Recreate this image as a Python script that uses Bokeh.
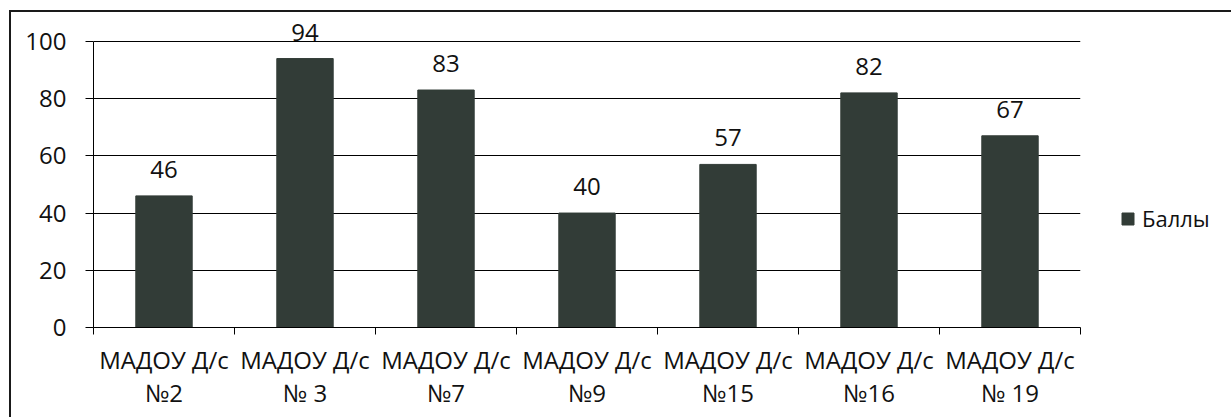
from bokeh.plotting import figure
from bokeh.models import (ColumnDataSource, Range1d, FixedTicker, LabelSet,
                          Legend, LegendItem)
from bokeh.core.properties import value
from bokeh.embed import file_html
from bokeh.resources import INLINE

# ---- data ----
categories = ["МАДОУ Д/с\n№2", "МАДОУ Д/с\n№ 3", "МАДОУ Д/с\n№7", "МАДОУ Д/с\n№9",
              "МАДОУ Д/с\n№15", "МАДОУ Д/с\n№16", "МАДОУ Д/с\n№ 19"]
values = [46, 94, 83, 40, 57, 82, 67]
series_name = "Баллы"
y_ticks = [0, 20, 40, 60, 80, 100]

FONT = "Open Sans"
TXT = "#111111"
BAR = "#323c37"

n = len(categories)
centers = [i + 0.5 for i in range(n)]
bounds = [float(i) for i in range(n + 1)]

src = ColumnDataSource(dict(x=centers, top=values, lab=[str(v) for v in values]))

p = figure(frame_width=987, frame_height=309, output_backend="svg",
           toolbar_location=None,
           x_range=Range1d(0, n), y_range=Range1d(0, 108),
           min_border_left=82, min_border_right=144, min_border_top=6,
           min_border_bottom=90)
p.styles = {"margin-left": "9px", "margin-top": "10px",
            "border-top": "2px solid #1a1a1a", "border-left": "2px solid #1a1a1a"}
p.outline_line_color = None
p.background_fill_color = "white"
p.border_fill_color = "white"

r = p.vbar(x="x", top="top", width=0.4, bottom=0, source=src,
           fill_color=BAR, line_color=BAR)

labels = LabelSet(x="x", y="top", text="lab", source=src, text_align="center",
                  text_baseline="alphabetic", y_offset=18,
                  text_font=value(FONT), text_font_size=value("24px"),
                  text_color=value(TXT))
p.add_layout(labels)

# grid
p.xgrid.visible = False
p.ygrid.grid_line_color = "black"
p.ygrid.grid_line_width = 1
p.ygrid.ticker = FixedTicker(ticks=y_ticks)

# y axis
ya = p.yaxis[0]
ya.ticker = FixedTicker(ticks=y_ticks)
ya.bounds = (0, 100)
ya.axis_line_color = "black"
ya.major_tick_line_color = "black"
ya.major_tick_out = 8
ya.major_tick_in = 0
ya.minor_tick_line_color = None
ya.major_label_standoff = 19
ya.major_label_text_font = FONT
ya.major_label_text_font_size = "24px"
ya.major_label_text_color = TXT

# x axis
xa = p.xaxis[0]
xa.ticker = FixedTicker(ticks=centers, minor_ticks=bounds)
xa.major_label_overrides = {c: lab for c, lab in zip(centers, categories)}
xa.axis_line_color = "black"
xa.major_tick_line_color = None
xa.minor_tick_line_color = "black"
xa.minor_tick_out = 7
xa.minor_tick_in = 0
xa.major_tick_out = 7
xa.major_tick_in = 0
xa.major_label_standoff = 8
xa.major_label_text_font = FONT
xa.major_label_text_font_size = "24px"
xa.major_label_text_color = TXT
xa.major_label_text_line_height = 1.0

legend = Legend(items=[LegendItem(label=series_name, renderers=[r])],
                location=(40, 94), glyph_width=15, glyph_height=15,
                label_standoff=7, padding=0, margin=0, spacing=0,
                border_line_color=None, background_fill_alpha=0,
                label_text_font=FONT, label_text_font_size="22px",
                label_text_color=TXT)
p.add_layout(legend, "right")

open("out.html", "w").write(file_html(p, INLINE))
